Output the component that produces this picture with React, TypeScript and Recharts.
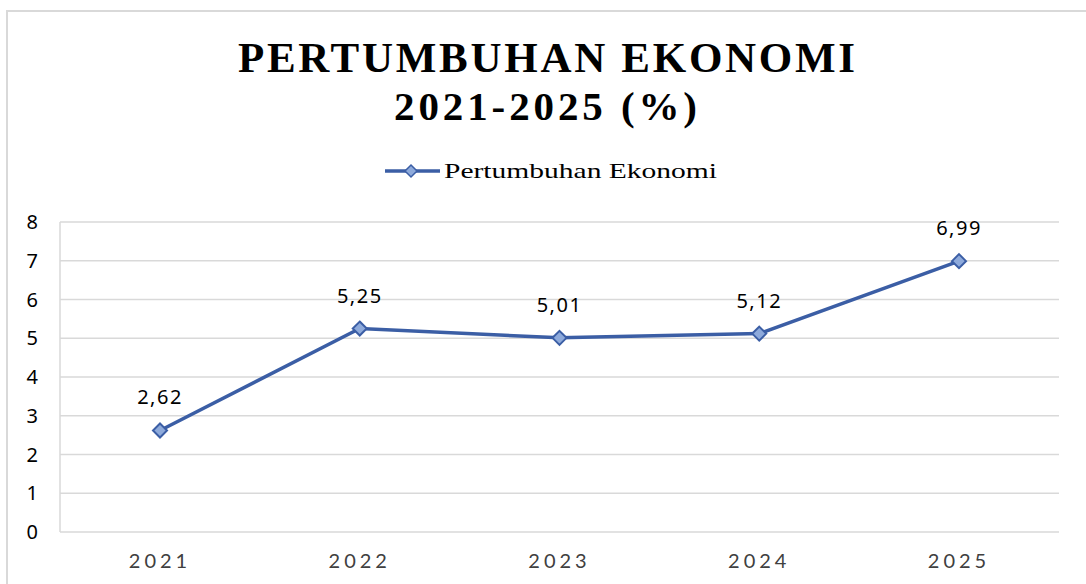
import React from 'react';
import { LineChart, Line, XAxis, YAxis, CartesianGrid, LabelList, Legend } from 'recharts';

const years = ['2021', '2022', '2023', '2024', '2025'];
const growth = [2.62, 5.25, 5.01, 5.12, 6.99];
const yTicks = [0, 1, 2, 3, 4, 5, 6, 7, 8];
const seriesName = 'Pertumbuhan Ekonomi';
const titleLine1 = 'PERTUMBUHAN EKONOMI';
const titleLine2 = '2021-2025 (%)';

const data = years.map((y, i) => ({ year: y, value: growth[i] }));

const LINE = '#3b5ea5';
const MARK = '#8eaadb';
const GRID = '#d9d9d9';
const SANS = "'Noto Sans', 'Open Sans', sans-serif";
const SERIF = "'Liberation Serif', 'Times New Roman', serif";

const fmt = (v: any) => Number(v).toFixed(2).replace('.', ',');

const Diamond = (props: any) => {
  const { cx, cy } = props;
  if (cx == null || cy == null) return null;
  const h = 7;
  return (
    <path
      d={`M${cx},${cy - h} L${cx + h},${cy} L${cx},${cy + h} L${cx - h},${cy} Z`}
      fill={MARK}
      stroke={LINE}
      strokeWidth={2}
    />
  );
};

const LegendContent = (props: any) => {
  const item = (props.payload && props.payload[0]) || { value: seriesName };
  return (
    <svg width={340} height={30} style={{ display: 'block', overflow: 'visible' }}>
      <line x1={2} x2={57} y1={21} y2={21} stroke={LINE} strokeWidth={3.5} />
      <path d="M28,15 L34,21 L28,27 L22,21 Z" fill={MARK} stroke={LINE} strokeWidth={1.5} />
      <text
        x={61}
        y={28}
        fontFamily={SERIF}
        fontSize={22}
        fill="#000"
        textLength={273}
        lengthAdjust="spacingAndGlyphs"
      >
        {item.value}
      </text>
    </svg>
  );
};

export default function App() {
  return (
    <div
      style={{
        position: 'absolute',
        left: 0,
        top: 0,
        width: 1086,
        height: 584,
        overflow: 'hidden',
        background: '#fff',
      }}
    >
      <div
        style={{
          position: 'absolute',
          left: 6,
          top: 10,
          width: 1100,
          height: 600,
          border: `2px solid ${GRID}`,
          boxSizing: 'border-box',
        }}
      />
      <svg
        width={1086}
        height={140}
        style={{ position: 'absolute', left: 0, top: 0, pointerEvents: 'none' }}
      >
        <text
          x={238}
          y={72}
          fontFamily={SERIF}
          fontWeight="bold"
          fontSize={43}
          fill="#000"
          textLength={617}
          lengthAdjust="spacing"
        >
          {titleLine1}
        </text>
        <text
          x={394}
          y={120}
          fontFamily={SERIF}
          fontWeight="bold"
          fontSize={41}
          fill="#000"
          textLength={303}
          lengthAdjust="spacing"
        >
          {titleLine2}
        </text>
      </svg>
      <div style={{ position: 'absolute', left: 0, top: 0 }}>
        <LineChart
          width={1086}
          height={584}
          data={data}
          margin={{ top: 222, right: 27, bottom: 0, left: 0 }}
        >
          <CartesianGrid vertical={false} stroke={GRID} strokeWidth={1.5} />
          <XAxis
            dataKey="year"
            height={52}
            padding={{ left: 100, right: 100 }}
            axisLine={false}
            tickLine={false}
            tickSize={0}
            tickMargin={22}
            tick={{ fill: '#404040', fontSize: 20, fontFamily: 'Lato, sans-serif', letterSpacing: 4 }}
          />
          <YAxis
            width={60}
            domain={[0, 8]}
            ticks={yTicks}
            interval={0}
            axisLine={{ stroke: GRID, strokeWidth: 1.5 }}
            tickLine={false}
            tickSize={0}
            tickMargin={22}
            tick={{ fill: '#000', fontSize: 20, fontFamily: SANS }}
          />
          <Legend
            verticalAlign="middle"
            align="center"
            layout="horizontal"
            content={<LegendContent />}
            wrapperStyle={{ top: 150, left: 383, width: 340, height: 30 }}
          />
          <Line
            name={seriesName}
            type="linear"
            dataKey="value"
            stroke={LINE}
            strokeWidth={3.5}
            dot={<Diamond />}
            activeDot={false}
            isAnimationActive={false}
          >
            <LabelList
              dataKey="value"
              position="top"
              offset={26}
              formatter={fmt}
              fill="#000"
              fontSize={20}
              fontFamily={SANS}
              letterSpacing={1.5}
            />
          </Line>
        </LineChart>
      </div>
    </div>
  );
}
